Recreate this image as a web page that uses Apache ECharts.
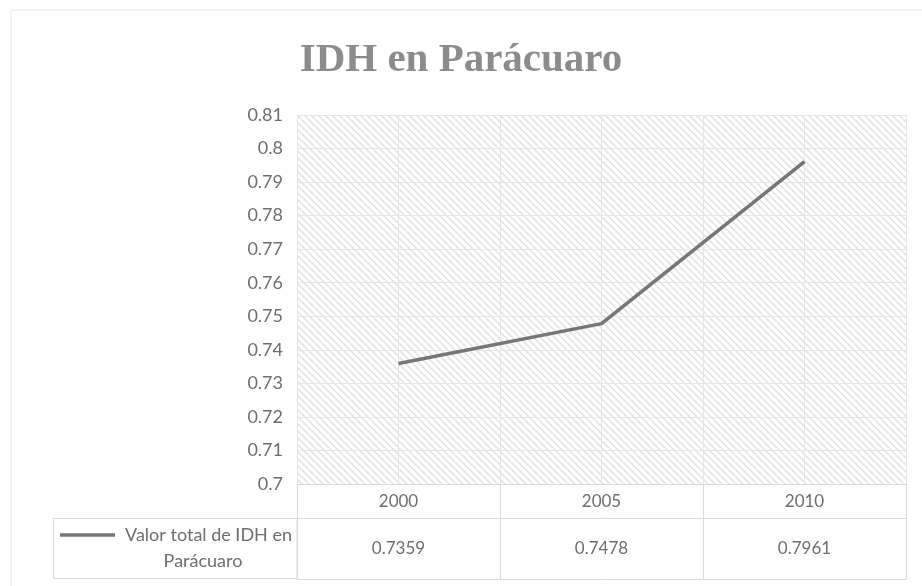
<!DOCTYPE html>
<html>
<head>
<meta charset="utf-8">
<script src="https://cdn.jsdelivr.net/npm/echarts@6/dist/echarts.min.js"></script>
<style>
  html, body { margin: 0; padding: 0; background: #fff; }
  #main { width: 922px; height: 586px; }
</style>
</head>
<body>
<div id="main"></div>
<script>
  // ——— 数据 ———
  const years      = ['2000', '2005', '2010'];
  const idhValues  = [0.7359, 0.7478, 0.7961];
  const seriesName = 'Valor total de IDH en Parácuaro';
  const yMin = 0.7, yMax = 0.81, yStep = 0.01;

  // 斜线底纹
  const hatch = document.createElement('canvas');
  hatch.width = 7; hatch.height = 7;
  (function () {
    const c = hatch.getContext('2d');
    c.fillStyle = '#ffffff';
    c.fillRect(0, 0, 7, 7);
    c.strokeStyle = '#e1e1e1';
    c.lineWidth = 1.5;
    [-7, 0, 7].forEach(o => {
      c.beginPath();
      c.moveTo(o, 0);
      c.lineTo(o + 7, 7);
      c.stroke();
    });
  })();

  const gridCol  = '#e6e6e6';
  const tableCol = '#dadada';
  const textCol  = '#6e6e6e';
  const font     = 'Lato, "Open Sans", sans-serif';

  const chart = echarts.init(document.getElementById('main'));
  chart.setOption({
    animation: false,
    title: {
      text: 'IDH en Parácuaro',
      left: 'center', top: 35,
      textStyle: { fontFamily: '"Liberation Serif", serif', fontWeight: 'bold', fontSize: 41, color: '#8c8c8c' }
    },
    grid: {
      left: 297, right: 16, top: 115, bottom: 102,
      show: true, borderWidth: 0,
      backgroundColor: { image: hatch, repeat: 'repeat' }
    },
    xAxis: [
      {
        type: 'category', data: years, boundaryGap: true,
        axisLine: { show: true, lineStyle: { color: tableCol } },
        axisTick: { show: true, length: 95, lineStyle: { color: tableCol } },
        axisLabel: { color: textCol, fontSize: 17, fontFamily: font, margin: 9 },
        splitLine: { show: false }
      },
      {
        type: 'category', data: years, position: 'bottom', offset: 34,
        axisLine: { show: true, lineStyle: { color: tableCol } },
        axisTick: { show: false },
        axisLabel: {
          color: textCol, fontSize: 17, fontFamily: font, margin: 22,
          formatter: (v, i) => idhValues[i].toFixed(4)
        },
        splitLine: { show: false }
      },
      {
        type: 'category', data: years, position: 'bottom', offset: 95,
        axisLine: { show: true, lineStyle: { color: tableCol } },
        axisTick: { show: false }, axisLabel: { show: false },
        splitLine: { show: false }
      },
      {
        // 辅助坐标轴：只画竖向网格线
        type: 'value', min: 0, max: 6, interval: 1, position: 'top',
        axisLine: { show: false }, axisTick: { show: false }, axisLabel: { show: false },
        splitLine: { show: true, lineStyle: { color: gridCol, width: 1 } }
      }
    ],
    yAxis: {
      type: 'value', min: yMin, max: yMax, interval: yStep,
      axisLine: { show: false }, axisTick: { show: false },
      axisLabel: {
        color: textCol, fontSize: 18, fontFamily: font, margin: 14,
        formatter: v => String(+v.toFixed(2))
      },
      splitLine: { show: true, lineStyle: { color: gridCol, width: 1 } }
    },
    series: [{
      name: seriesName,
      type: 'line',
      xAxisIndex: 0,
      data: idhValues,
      symbol: 'none',
      lineStyle: { color: '#767676', width: 3.5 },
      z: 5
    }],
    graphic: [
      // 外框
      { type: 'rect', shape: { x: 11, y: 10, width: 920, height: 590 },
        style: { fill: 'none', stroke: '#e6e6e6', lineWidth: 1 }, silent: true },
      // 图例单元格
      { type: 'rect', shape: { x: 53.5, y: 518.5, width: 243.5, height: 60 },
        style: { fill: 'none', stroke: tableCol, lineWidth: 1 }, silent: true },
      { type: 'line', shape: { x1: 60, y1: 535, x2: 115, y2: 535 },
        style: { stroke: '#767676', lineWidth: 3.5 }, silent: true },
      { type: 'text', x: 292, y: 535,
        style: { text: 'Valor total de IDH en', align: 'right', verticalAlign: 'middle',
                 fill: textCol, fontSize: 18, fontFamily: font } },
      { type: 'text', x: 203, y: 561,
        style: { text: 'Parácuaro', align: 'center', verticalAlign: 'middle',
                 fill: textCol, fontSize: 18, fontFamily: font } }
    ]
  });
</script>
</body>
</html>
